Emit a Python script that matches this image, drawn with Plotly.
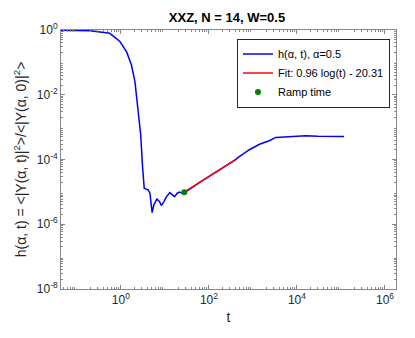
import plotly.graph_objects as go

# blue curve h(alpha, t)
t_h = [0.044, 0.2, 0.56, 0.95, 1.35, 1.74, 2.09, 2.45, 2.82, 3.09, 3.39, 3.8, 4.17, 4.57,
       5.13, 5.62, 6.61, 7.59, 8.32, 9.55, 10.7, 12.9, 14.8, 16.6, 19.1, 21.4, 24.5, 27.5,
       33.1, 61.7, 148, 398, 490, 832, 1410, 2340, 3310, 6610, 15800, 30000, 44700, 80000, 117500]
h_val = [0.98, 0.95, 0.79, 0.44, 0.21, 0.083, 0.025, 3.9e-3, 5.8e-4, 6.8e-5, 1.3e-5, 1.2e-5, 1.15e-5, 9.1e-6,
         2.3e-6, 4.0e-6, 6.0e-6, 5.0e-6, 3.8e-6, 5.0e-6, 6.9e-6, 9.5e-6, 8.1e-6, 7.1e-6, 9.1e-6, 9.8e-6, 9.1e-6, 9.8e-6,
         1.1e-5, 1.95e-5, 4.1e-5, 9.8e-5, 1.23e-4, 2.0e-4, 2.95e-4, 3.8e-4, 4.8e-4, 5.1e-4, 5.4e-4, 5.2e-4, 5.1e-4, 5.2e-4, 5.1e-4]

# red fit line
t_fit = [27.5, 400]
h_fit = [9.8e-6, 9.9e-5]

# ramp time marker
t_ramp = [27.5]
h_ramp = [9.8e-6]

x_ticks = [1, 1e2, 1e4, 1e6]
x_text = ['10<sup>0</sup>', '10<sup>2</sup>', '10<sup>4</sup>', '10<sup>6</sup>']
y_ticks = [1, 1e-2, 1e-4, 1e-6, 1e-8]
y_text = ['10<sup>0</sup>', '10<sup>-2</sup>', '10<sup>-4</sup>', '10<sup>-6</sup>', '10<sup>-8</sup>']

FONT = 'Liberation Sans, Arial, sans-serif'
AX = '#888888'

fig = go.Figure()
fig.add_trace(go.Scatter(x=t_h, y=h_val, mode='lines', name='h(α, t), α=0.5',
                         line=dict(color='#0000ff', width=1.5)))
fig.add_trace(go.Scatter(x=t_fit, y=h_fit, mode='lines', name='Fit: 0.96 log(t) - 20.31',
                         line=dict(color='#ff0000', width=1.5)))
fig.add_trace(go.Scatter(x=t_ramp, y=h_ramp, mode='markers', name='Ramp time',
                         marker=dict(color='#008000', size=6)))

minor_x = [m * 10**e for e in range(-2, 7) for m in range(2, 10)]
minor_y = [m * 10**e for e in range(-9, 1) for m in range(2, 10)]

axis = dict(type='log', showgrid=False, zeroline=False, showline=True, linecolor=AX, linewidth=1,
            mirror='ticks', ticks='inside', ticklen=4, tickcolor=AX,
            tickfont=dict(family=FONT, size=12, color='#262626'))

fig.update_xaxes(**axis, range=[-1.36, 6.25], tickvals=x_ticks, ticktext=x_text,
                 minor=dict(ticks='inside', ticklen=2, tickcolor=AX, tickvals=minor_x),
                 title=dict(text='t', font=dict(family=FONT, size=14, color='#262626'), standoff=5))
fig.update_yaxes(**axis, range=[-8, 0], tickvals=y_ticks, ticktext=y_text,
                 minor=dict(ticks='inside', ticklen=2, tickcolor=AX, tickvals=minor_y),
                 title=dict(text='h(α, t) = <|Y(α, t)|<sup>2</sup>>/<|Y(α, 0)|<sup>2</sup>>',
                            font=dict(family=FONT, size=14, color='#262626'), standoff=6))

fig.update_layout(
    width=415, height=338,
    margin=dict(l=61, r=19, t=30, b=49),
    paper_bgcolor='white', plot_bgcolor='white',
    title=dict(text='<b>XXZ, N = 14, W=0.5</b>', x=0.547, xanchor='center', y=0.947, yanchor='middle',
               font=dict(family=FONT, size=13, color='black')),
    legend=dict(x=0.982, y=0.967, xanchor='right', yanchor='top', bgcolor='white',
                bordercolor='#262626', borderwidth=1, tracegroupgap=0, itemwidth=30,
                font=dict(family=FONT, size=11, color='black')),
    showlegend=True,
)

fig.write_html('out.html', config={'displayModeBar': False},
               post_script="document.body.style.margin='0';")
